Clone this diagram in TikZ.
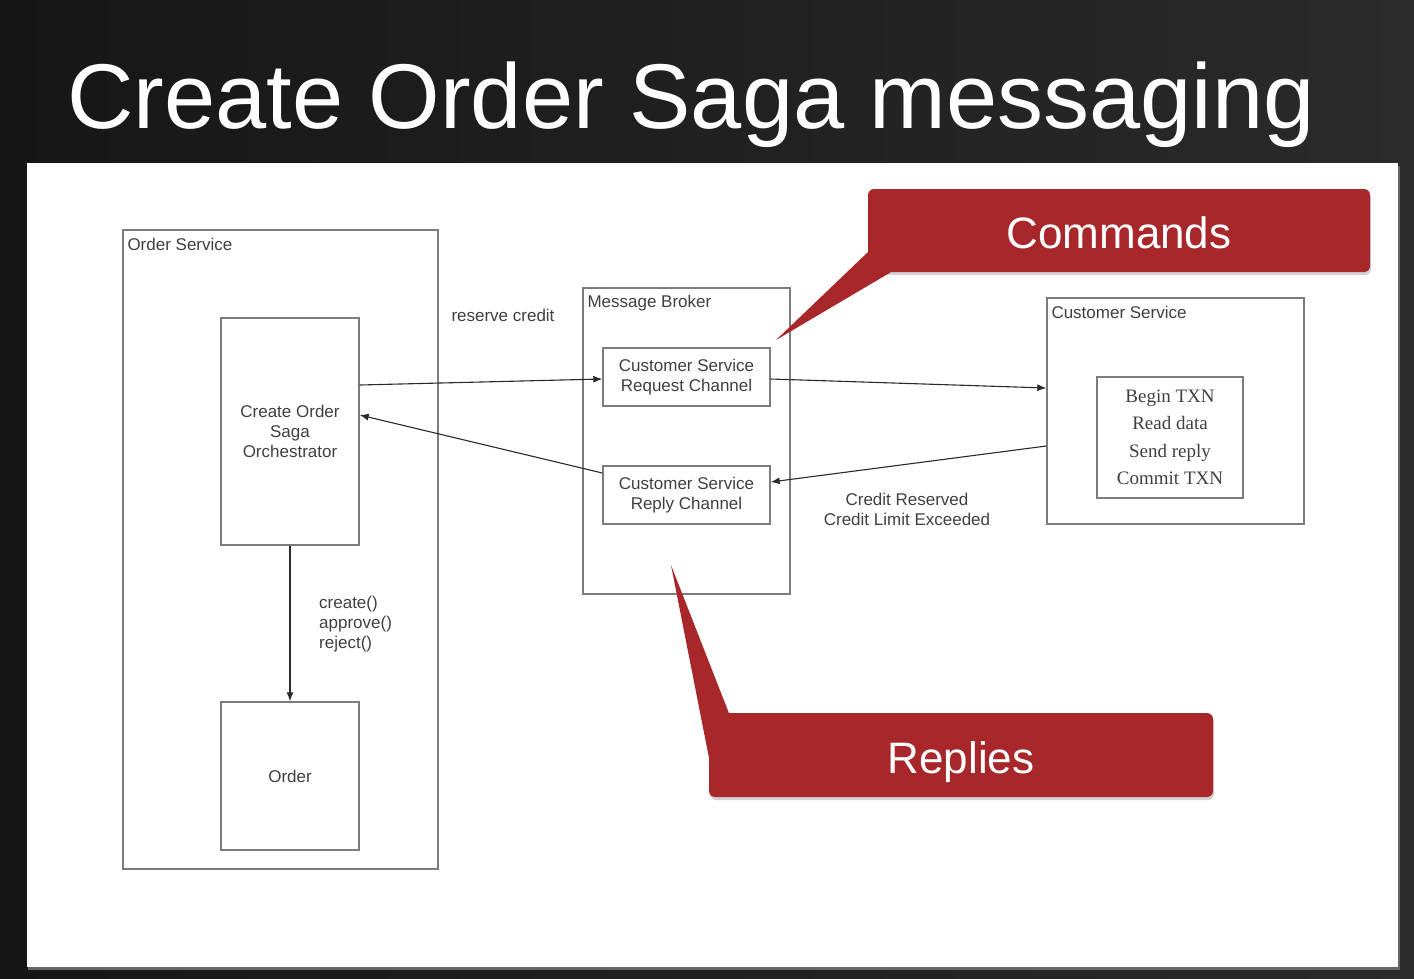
\documentclass[tikz,border=0pt]{standalone}
\usepackage{fontspec}
\setmainfont{Liberation Sans}
\newfontfamily\txnfont{Liberation Serif}
\usetikzlibrary{arrows.meta,calc,shadows}
\definecolor{slidebgA}{HTML}{161616}
\definecolor{slidebgB}{HTML}{2A2A2A}
\definecolor{boxline}{HTML}{7C7C7C}
\definecolor{diagtext}{HTML}{404040}
\definecolor{wire}{HTML}{2A2A2A}
\definecolor{calloutred}{HTML}{A8272B}
\begin{document}
\begin{tikzpicture}[x=1pt,y=-1pt,
  frame/.style={draw=boxline, line width=1.4pt, inner sep=0pt},
  small/.style={text=diagtext, font=\fontsize{17}{20}\selectfont, inner sep=0pt},
  txn/.style={text=diagtext, font=\txnfont\fontsize{19}{27.5}\selectfont, inner sep=0pt, align=center},
  flow/.style={draw=wire, line width=1.1pt, -{Latex[length=9pt,width=7pt]}},
  callout/.style={fill=calloutred, draw=none},
  callouttext/.style={text=white, font=\fontsize{44}{48}\selectfont, text depth=0pt, text height=36pt}
]
\useasboundingbox (0,0) rectangle (1414,978);

% slide background and white content panel
\shade[left color=slidebgA, right color=slidebgB] (0,0) rectangle (1414,978);
\fill[black!60] (28,166) rectangle (1400,970);
\fill[white] (27,163) rectangle (1398,967);

% title
\node[anchor=base west, text=white, font=\fontsize{92}{96}\selectfont, inner sep=0pt] (title) at (67,128) {Create Order Saga messaging};

% Order Service
\node[frame, minimum width=315pt, minimum height=639pt] (os) at (280.5,549.5) {};
\node[small, anchor=west] (oslbl) at ($(os.north west)+(5,15)$) {Order Service};
\node[frame, minimum width=138pt, minimum height=227pt, small, align=center] (orch) at (290,431.5) {Create Order\\Saga\\Orchestrator};
\node[frame, minimum width=138pt, minimum height=148pt, small] (order) at (290,776) {Order};

% Message Broker
\node[frame, minimum width=207pt, minimum height=306pt] (mb) at (686.5,441) {};
\node[small, anchor=west] (mblbl) at ($(mb.north west)+(5,16)$) {Message Broker};
\node[frame, minimum width=167pt, minimum height=58pt, small, align=center] (req) at (686.5,377) {Customer Service\\Request Channel};
\node[frame, minimum width=167pt, minimum height=58pt, small, align=center] (rep) at (686.5,495) {Customer Service\\Reply Channel};

% Customer Service
\node[frame, minimum width=257pt, minimum height=226pt] (cs) at (1175.5,411) {};
\node[small, anchor=west] (cslbl) at ($(cs.north west)+(5,15)$) {Customer Service};
\node[frame, minimum width=146pt, minimum height=121pt, txn] (work) at (1170,437.5) {Begin TXN\\Read data\\Send reply\\Commit TXN};

% messages
\draw[flow] ([yshift=46.5pt]orch.east) -- ([yshift=-2pt]req.west);
\draw[flow] ([yshift=22pt]rep.west) -- ([yshift=16.5pt]orch.east);
\draw[flow] ([yshift=-2pt]req.east) -- ([yshift=23pt]cs.west);
\draw[flow] ([yshift=-35pt]cs.west) -- ([yshift=13pt]rep.east);
\draw[flow] (orch.south) -- (order.north);

% message labels
\node[small] (rc) at (503,315) {reserve credit};
\node[small, align=center] (crl) at (907,509) {Credit Reserved\\Credit Limit Exceeded};
\node[small, align=left, anchor=west] (ops) at (319,624) {create()\\approve()\\reject()};

% callouts
\node[callout, rounded corners=6pt, minimum width=502pt, minimum height=83pt, drop shadow={opacity=0.35, shadow xshift=1pt, shadow yshift=-3pt}, callouttext] (cmd) at (1119,230.5) {Commands};
\coordinate (cmdtip) at (776,340);
\fill[callout] ([yshift=20pt]cmd.south west) -- (cmdtip) -- ([xshift=23pt]cmd.south west) -- cycle;

\node[callout, rounded corners=6pt, minimum width=504pt, minimum height=84pt, drop shadow={opacity=0.35, shadow xshift=1pt, shadow yshift=-3pt}, callouttext] (rpl) at (961,755) {Replies};
\coordinate (rpltip) at (671,565);
\fill[callout] ([yshift=-2pt]rpl.west) -- (rpltip) -- ([xshift=20pt]rpl.north west) -- cycle;
\end{tikzpicture}
\end{document}
